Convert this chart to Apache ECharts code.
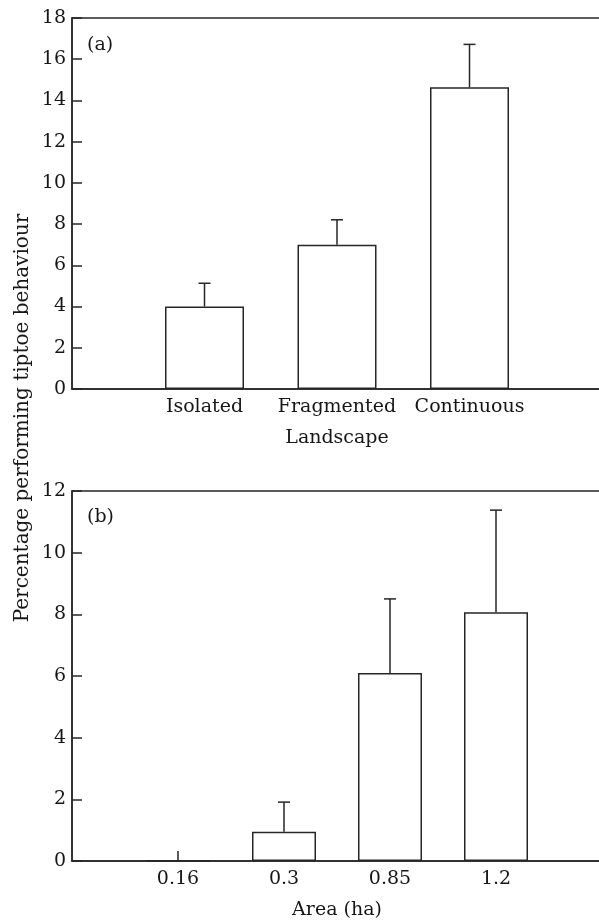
<!DOCTYPE html>
<html>
<head>
<meta charset="utf-8">
<script src="https://cdn.jsdelivr.net/npm/echarts@6/dist/echarts.min.js"></script>
<style>
  html, body { margin: 0; padding: 0; background: #fff; }
  #chart { width: 599px; height: 922px; }
</style>
</head>
<body>
<div id="chart"></div>
<script>
// ---- data ----
const landscapeCategories = ['Isolated', 'Fragmented', 'Continuous'];
const landscapeMeans = [4.0, 7.0, 14.64];
const landscapeErrTops = [5.13, 8.21, 16.72];

const areaCategories = ['0.16', '0.3', '0.85', '1.2'];
const areaMeans = [0, 0.95, 6.1, 8.07];
const areaErrTops = [null, 1.91, 8.5, 11.38];

const yTicksA = { min: 0, max: 18, interval: 2 };
const yTicksB = { min: 0, max: 12, interval: 2 };

// ---- styles ----
const FONT = 'DejaVu Serif';
const INK = '#161616';
const LINE = '#262626';
const LW = 1.5;

const padCats = cats => [''].concat(cats).concat(['']);

function barData(means) {
  return means.map((v, i) => [i + 1, v]);
}
function errData(means, tops) {
  return means.map((v, i) => [i + 1, v, tops[i] == null ? '-' : tops[i]]);
}

function errorRender(params, api) {
  const e = api.value(2);
  if (e === '-' || e == null || isNaN(e)) return null;
  const x = api.value(0), v = api.value(1);
  const p0 = api.coord([x, v]);
  const p1 = api.coord([x, e]);
  const hw = 6;
  const st = { stroke: LINE, lineWidth: LW, fill: null };
  return {
    type: 'group',
    children: [
      { type: 'line', shape: { x1: p0[0], y1: p0[1], x2: p1[0], y2: p1[1] }, style: st },
      { type: 'line', shape: { x1: p1[0] - hw, y1: p1[1], x2: p1[0] + hw, y2: p1[1] }, style: st }
    ]
  };
}

function xAxisCfg(gridIndex, cats, name) {
  return {
    type: 'category',
    gridIndex: gridIndex,
    data: padCats(cats),
    boundaryGap: false,
    axisLine: { show: true, lineStyle: { color: LINE, width: LW } },
    axisTick: {
      show: true, inside: true, length: 10,
      interval: (idx, val) => val !== '',
      lineStyle: { color: LINE, width: LW }
    },
    axisLabel: {
      show: true, interval: 0, margin: 9,
      color: INK, fontFamily: FONT, fontSize: 19
    },
    splitLine: { show: false },
    name: name,
    nameLocation: 'middle',
    nameGap: 40,
    nameTextStyle: { color: INK, fontFamily: FONT, fontSize: 19 }
  };
}

function yAxisCfg(gridIndex, t) {
  return {
    type: 'value',
    gridIndex: gridIndex,
    min: t.min, max: t.max, interval: t.interval,
    axisLine: { show: true, lineStyle: { color: LINE, width: LW } },
    axisTick: { show: true, inside: true, length: 10, lineStyle: { color: LINE, width: LW } },
    axisLabel: { show: true, margin: 6, color: INK, fontFamily: FONT, fontSize: 19 },
    splitLine: { show: false }
  };
}

const chart = echarts.init(document.getElementById('chart'), null, { renderer: 'canvas' });

chart.setOption({
  animation: false,
  backgroundColor: '#fff',
  grid: [
    { left: 72, top: 18, width: 530, height: 371, outerBoundsMode: 'none', containLabel: false, show: true, borderColor: LINE, borderWidth: LW, backgroundColor: 'transparent' },
    { left: 72, top: 491, width: 530, height: 370, outerBoundsMode: 'none', containLabel: false, show: true, borderColor: LINE, borderWidth: LW, backgroundColor: 'transparent' }
  ],
  xAxis: [
    xAxisCfg(0, landscapeCategories, 'Landscape'),
    xAxisCfg(1, areaCategories, 'Area (ha)')
  ],
  yAxis: [
    yAxisCfg(0, yTicksA),
    yAxisCfg(1, yTicksB)
  ],
  series: [
    {
      type: 'bar', xAxisIndex: 0, yAxisIndex: 0,
      data: barData(landscapeMeans),
      barWidth: 79,
      itemStyle: { color: '#fff', borderColor: LINE, borderWidth: LW },
      silent: true
    },
    {
      type: 'custom', xAxisIndex: 0, yAxisIndex: 0,
      data: errData(landscapeMeans, landscapeErrTops),
      encode: { x: 0, y: [1, 2] },
      renderItem: errorRender, silent: true, z: 3
    },
    {
      type: 'bar', xAxisIndex: 1, yAxisIndex: 1,
      data: barData(areaMeans),
      barWidth: 64,
      itemStyle: { color: '#fff', borderColor: LINE, borderWidth: LW },
      silent: true
    },
    {
      type: 'custom', xAxisIndex: 1, yAxisIndex: 1,
      data: errData(areaMeans, areaErrTops),
      encode: { x: 0, y: [1, 2] },
      renderItem: errorRender, silent: true, z: 3
    }
  ],
  graphic: [
    {
      type: 'text', x: 23, y: 418, rotation: Math.PI / 2,
      style: {
        text: 'Percentage performing tiptoe behaviour',
        fontFamily: FONT, fontSize: 20, fill: INK,
        align: 'center', verticalAlign: 'middle'
      }
    },
    {
      type: 'text', x: 87, y: 45,
      style: { text: '(a)', fontFamily: FONT, fontSize: 19, fill: INK, align: 'left', verticalAlign: 'middle' }
    },
    {
      type: 'text', x: 87, y: 517,
      style: { text: '(b)', fontFamily: FONT, fontSize: 19, fill: INK, align: 'left', verticalAlign: 'middle' }
    }
  ]
});
</script>
</body>
</html>
